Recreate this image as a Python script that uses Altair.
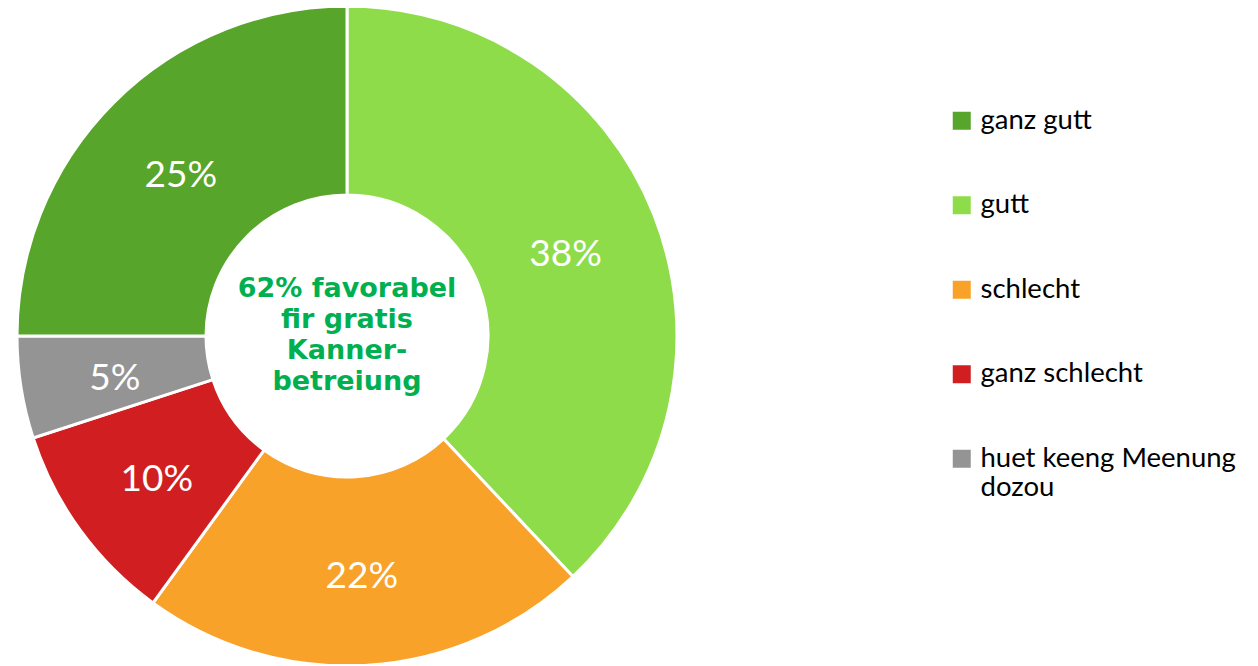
import altair as alt
import pandas as pd

# data (clockwise from 12 o'clock)
categories = ["gutt", "schlecht", "ganz schlecht", "huet keeng Meenung dozou", "ganz gutt"]
values = [38, 22, 10, 5, 25]
order_idx = [1, 2, 3, 4, 5]
legend_order = ["ganz gutt", "gutt", "schlecht", "ganz schlecht", "huet keeng Meenung dozou"]
legend_colors = ["#57A52A", "#8EDC4A", "#F9A229", "#D11F21", "#949494"]
center_lines = ["62% favorabel", "fir gratis", "Kanner-", "betreiung"]

df = pd.DataFrame({"cat": categories, "value": values, "idx": order_idx})
df["label"] = [f"{v}%" for v in values]

W, H = 678, 656

base = alt.Chart(df).encode(
    theta=alt.Theta("value:Q", stack=True),
    order=alt.Order("idx:Q"),
)

arcs = base.mark_arc(innerRadius=141, outerRadius=330, stroke="white", strokeWidth=3).encode(
    color=alt.Color(
        "cat:N",
        scale=alt.Scale(domain=legend_order, range=legend_colors),
        sort=legend_order,
        legend=alt.Legend(
            orient="none",
            legendX=940,
            legendY=99,
            title=None,
            symbolType="square",
            symbolSize=324,
            symbolStrokeWidth=0,
            labelFont="Lato",
            labelFontSize=27.5,
            labelColor="black",
            labelLimit=500,
            labelOffset=5,
            rowPadding=55.5,
            labelExpr="datum.label == 'huet keeng Meenung dozou' ? ['huet keeng Meenung', 'dozou'] : datum.label",
        ),
    )
)

labels = base.mark_text(radius=235, font="Lato", fontSize=37, color="white", baseline="middle", dy=6).encode(
    text="label:N"
)

center = alt.Chart(pd.DataFrame({"t": [center_lines]})).mark_text(
    font="DejaVu Sans", fontWeight="bold", fontSize=27, color="#00B050",
    lineHeight=31, baseline="middle", align="center", dy=-47
).encode(text="t")

chart = alt.layer(arcs, labels, center).properties(
    width=W, height=H,
    padding={"left": 0, "top": 0, "right": 564, "bottom": 0},
    autosize=alt.AutoSizeParams(type="none"),
).configure_view(stroke=None)

chart.save("out.html", embed_options={"renderer": "svg", "actions": False})
